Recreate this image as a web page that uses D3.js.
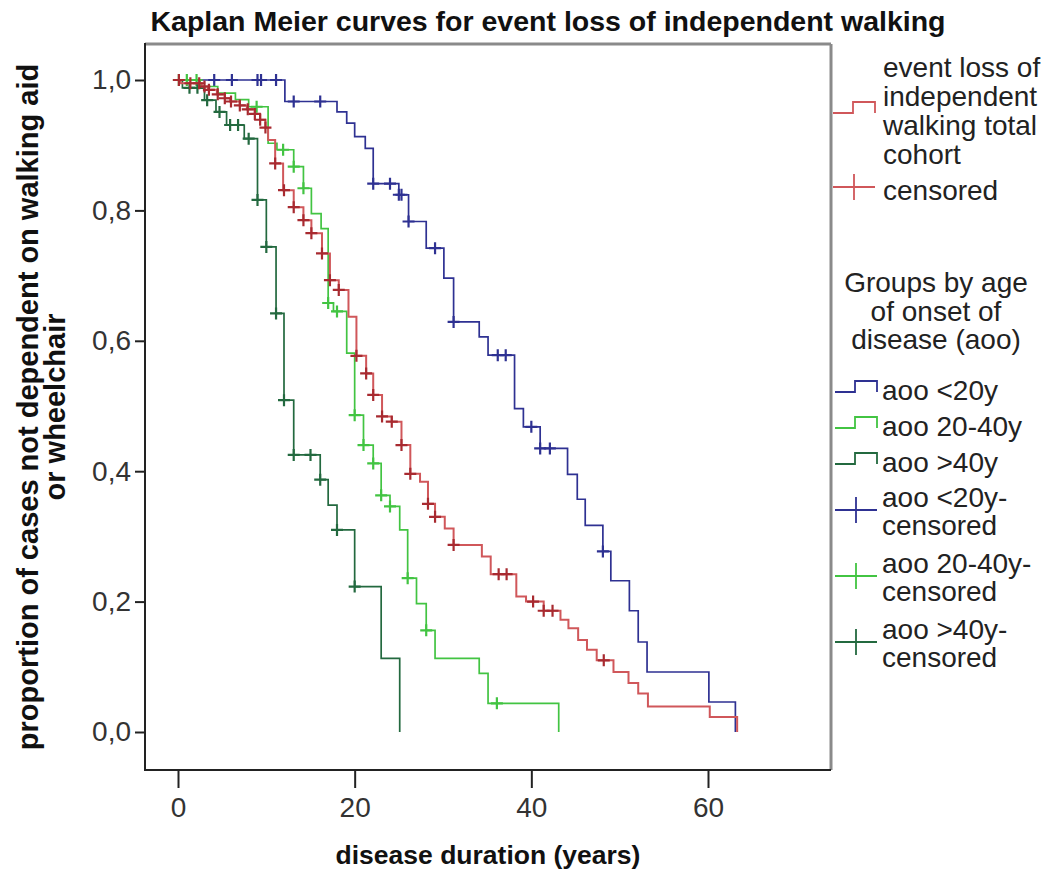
<!DOCTYPE html>
<html><head><meta charset="utf-8">
<script src="https://cdn.jsdelivr.net/npm/d3@7"></script>
<style>body{margin:0;background:#fff}svg{display:block}text{font-family:"Liberation Sans",Arial,sans-serif}</style>
</head><body>
<svg id="c" width="1045" height="870"></svg>
<script>
// ---------- data ----------
const xTicks = [0, 20, 40, 60];
const yTicks = [0, 0.2, 0.4, 0.6, 0.8, 1.0];

const totalTimes = [0,0.3,2.7,3.4,4.4,5.3,5.9,7.0,7.8,8.7,9.3,9.9,10.2,11.0,11.9,13.1,14.2,15.1,16.3,17.2,18.2,19.3,20.2,21.3,22.1,23.1,24.2,25.3,26.3,27.4,28.3,29.1,30.2,31.2,34.4,35.4,38.3,39.4,41.4,43.3,44.2,45.3,46.3,47.4,49.3,51.0,52.1,53.2,60.2,63.3];
const totalSurv  = [1,0.995,0.99,0.985,0.978,0.972,0.967,0.961,0.955,0.948,0.939,0.927,0.908,0.872,0.831,0.805,0.785,0.765,0.734,0.693,0.678,0.637,0.577,0.55,0.517,0.484,0.476,0.44,0.396,0.384,0.35,0.33,0.312,0.287,0.269,0.242,0.208,0.2,0.186,0.172,0.159,0.141,0.126,0.11,0.092,0.075,0.059,0.039,0.023,0];
const totalCensor = [0.1,1.4,2.4,3.0,3.5,4.5,5.3,6.0,7.0,7.9,8.7,9.3,9.9,11.0,12.0,13.1,14.2,15.1,16.3,17.2,18.2,20.2,21.3,22.1,23.1,24.2,25.3,26.3,28.3,29.1,31.2,36.3,37.2,40.2,41.4,42.4,48.2];

const youngTimes = [0,12.1,18.0,19.1,20.0,21.2,22.1,25.0,26.1,28.1,30.1,31.2,34.1,35.1,38.1,39.1,41.0,44.1,45.2,46.1,48.1,49.0,51.1,52.1,53.1,60.1,63.1];
const youngSurv  = [1,0.967,0.951,0.934,0.913,0.895,0.841,0.824,0.783,0.742,0.696,0.629,0.606,0.578,0.496,0.468,0.435,0.395,0.357,0.317,0.277,0.232,0.186,0.138,0.092,0.046,0];
const youngCensor = [4.1,6.1,9.0,9.4,11.1,13.1,16.1,22.1,24.0,25.0,25.3,26.1,29.1,31.2,36.2,37.1,40.0,41.0,42.1,48.1];

const midTimes = [0,2.5,4.5,6.5,8.0,10.2,11.2,13.1,14.2,15.1,16.2,17.0,17.6,19.1,20.0,21.0,22.1,23.0,24.0,25.1,26.0,27.0,28.1,29.1,34.1,35.1,43.1];
const midSurv  = [1,0.99,0.98,0.97,0.959,0.903,0.893,0.867,0.834,0.795,0.772,0.658,0.645,0.581,0.486,0.44,0.412,0.363,0.346,0.31,0.236,0.197,0.156,0.113,0.09,0.044,0];
const midCensor = [0.1,1.0,2.1,8.9,11.9,13.1,14.2,17.0,18.0,20.0,21.0,22.1,23.0,24.0,26.0,28.1,36.1];

const oldTimes = [0,0.5,3.0,4.3,5.5,7.5,9.0,10.0,11.1,12.0,13.1,16.1,17.0,18.0,20.0,23.0,25.1];
const oldSurv  = [1,0.988,0.969,0.951,0.931,0.91,0.816,0.744,0.642,0.509,0.425,0.387,0.348,0.31,0.223,0.113,0];
const oldCensor = [1.3,2.2,3.3,4.7,5.9,6.8,8.0,9.0,10.0,11.1,12.0,13.1,15.0,16.1,18.0,20.0];

const groupLabels = ["aoo <20y","aoo 20-40y","aoo >40y"];
const censLabels = [["aoo <20y-","censored"],["aoo 20-40y-","censored"],["aoo >40y-","censored"]];

// ---------- layout ----------
const svg = d3.select("#c");
const FONT = '"Liberation Sans",Arial,sans-serif';
const box = {l:145, r:831, t:44, b:770};
const x = d3.scaleLinear().domain([0,60]).range([178,708]);
const y = d3.scaleLinear().domain([0,1]).range([732,80]);

const colBlue="#2e3192", colGreen="#42c442", colDark="#23693f", colRed="#d0575a", colRedC="#a82a30";

svg.append("rect").attr("width",1045).attr("height",870).attr("fill","#fff");

// frame
svg.append("line").attr("x1",box.l).attr("x2",box.r).attr("y1",box.t).attr("y2",box.t).attr("stroke","#8a8a8a").attr("stroke-width",3);
svg.append("line").attr("x1",box.r).attr("x2",box.r).attr("y1",box.t).attr("y2",box.b).attr("stroke","#8a8a8a").attr("stroke-width",3);
svg.append("line").attr("x1",box.l).attr("x2",box.l).attr("y1",box.t-1).attr("y2",box.b+1).attr("stroke","#222").attr("stroke-width",2);
svg.append("line").attr("x1",box.l-1).attr("x2",box.r).attr("y1",box.b).attr("y2",box.b).attr("stroke","#222").attr("stroke-width",2);

// axes
const fmt = d3.formatLocale({decimal:",",thousands:".",grouping:[3],currency:["",""]}).format(".1f");
const gx = svg.append("g").attr("transform",`translate(0,${box.b})`)
  .call(d3.axisBottom(x).tickValues(xTicks).tickSize(18).tickPadding(9).tickFormat(d3.format("d")));
const gy = svg.append("g").attr("transform",`translate(${box.l},0)`)
  .call(d3.axisLeft(y).tickValues(yTicks).tickSize(10).tickPadding(4).tickFormat(fmt));
[gx,gy].forEach(g=>{
  g.select(".domain").remove();
  g.selectAll(".tick line").attr("stroke","#222").attr("stroke-width",2);
  g.selectAll(".tick text").attr("fill","#333").style("font-size","28px").style("font-family",FONT);
});

// curves
function stepPts(t,s){ return t.map((d,i)=>[d,s[i]]); }
function survAt(t,s,v){ let r=s[0]; for(let i=0;i<t.length;i++){ if(t[i]<=v+1e-9) r=s[i]; } return r; }
const line = d3.line().x(d=>x(d[0])).y(d=>y(d[1])).curve(d3.curveStepAfter);
const series = [
  {t:youngTimes,s:youngSurv,c:youngCensor,col:colBlue,cc:colBlue,w:1.7},
  {t:midTimes,s:midSurv,c:midCensor,col:colGreen,cc:colGreen,w:1.7},
  {t:oldTimes,s:oldSurv,c:oldCensor,col:colDark,cc:colDark,w:1.7},
  {t:totalTimes,s:totalSurv,c:totalCensor,col:colRed,cc:colRedC,w:2}
];
const plot = svg.append("g");
series.forEach(se=>{
  plot.append("path").attr("d",line(stepPts(se.t,se.s))).attr("fill","none")
    .attr("stroke",se.col).attr("stroke-width",se.w);
  const g = plot.append("g");
  se.c.forEach(cv=>{
    const cx=x(cv), cy=y(survAt(se.t,se.s,cv));
    g.append("path").attr("d",`M${cx-6},${cy}H${cx+6}M${cx},${cy-6}V${cy+6}`)
      .attr("stroke",se.cc).attr("stroke-width",2.2).attr("fill","none");
  });
});

// titles
svg.append("text").attr("x",548).attr("y",31).attr("text-anchor","middle")
  .style("font-size","28.5px").style("font-weight","bold").attr("fill","#111")
  .text("Kaplan Meier curves for event loss of independent walking");
svg.append("text").attr("x",(box.l+box.r)/2).attr("y",864).attr("text-anchor","middle")
  .style("font-size","26.5px").style("font-weight","bold").attr("fill","#111")
  .text("disease duration (years)");
const yl = svg.append("text").attr("transform",`translate(0,${(box.t+box.b)/2}) rotate(-90)`)
  .attr("text-anchor","middle").style("font-size","29px").style("font-weight","bold").attr("fill","#111");
yl.append("tspan").attr("x",0).attr("y",38).text("proportion of cases not dependent on walking aid");
yl.append("tspan").attr("x",0).attr("y",65).text("or wheelchair");

// legend
const lg = svg.append("g").style("font-size","28px").attr("fill","#222");
function stepSym(g,x0,yb,col){ g.append("path").attr("d",`M${x0},${yb}H${x0+20}V${yb-11}H${x0+42}V${yb}`).attr("fill","none").attr("stroke",col).attr("stroke-width",1.8); }
function crossSym(g,x0,yc,col){ g.append("path").attr("d",`M${x0},${yc}H${x0+42}M${x0+21},${yc-13}V${yc+13}`).attr("fill","none").attr("stroke",col).attr("stroke-width",1.8); }
stepSym(lg,833,113,colRed);
["event loss of","independent","walking total","cohort"].forEach((s,i)=>lg.append("text").attr("x",883).attr("y",77+i*29).text(s));
crossSym(lg,833,187,colRed);
lg.append("text").attr("x",883).attr("y",200).text("censored");
["Groups by age","of onset of","disease (aoo)"].forEach((s,i)=>lg.append("text").attr("x",936).attr("y",292+i*28.5).attr("text-anchor","middle").text(s));
const gcols=[colBlue,colGreen,colDark];
groupLabels.forEach((s,i)=>{
  stepSym(lg,835,392+i*36,gcols[i]);
  lg.append("text").attr("x",882).attr("y",400+i*36).text(s);
});
censLabels.forEach((p,i)=>{
  crossSym(lg,835,510+i*66,gcols[i]);
  lg.append("text").attr("x",882).attr("y",507+i*66).text(p[0]);
  lg.append("text").attr("x",882).attr("y",535+i*66).text(p[1]);
});
</script>
</body></html>
